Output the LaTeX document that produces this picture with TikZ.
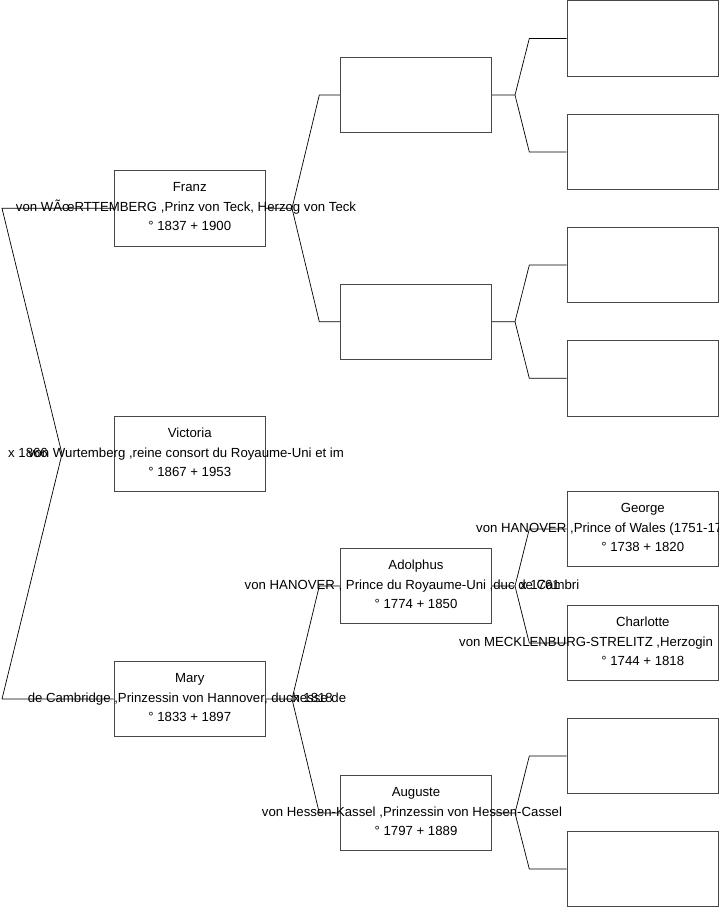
\documentclass[tikz,border=0pt]{standalone}
\usepackage{fontspec}
\setmainfont{Liberation Sans}
\begin{document}
\begin{tikzpicture}[x=1pt,y=-1pt,
  pbox/.style={draw=black!72, line width=0.8pt, minimum width=151.5pt, minimum height=75.5pt, inner sep=0pt},
  conn/.style={draw=black, line width=0.7pt},
  txt/.style={font=\fontsize{13.2}{15}\selectfont, inner sep=0pt, anchor=base}]
\useasboundingbox (0,0) rectangle (719,908);
\newcommand\famcard[5]{%
  \node[pbox] (#1) at (#2,#3) {};
  \node[txt] (#1-first) at (#2,#3-16.5) {#4};
  \node[txt] (#1-dates) at (#2,#3+22.5) {#5};}
% column 1
\famcard{franz}{189.75}{208.3}{Franz}{° 1837 + 1900}
\node[txt] (franz-title) at (186,211.8) {von WÃœRTTEMBERG ,Prinz von Teck, Herzog von Teck};
\famcard{victoria}{189.75}{454}{Victoria}{° 1867 + 1953}
\node[txt] (victoria-title) at (186,457.5) {von Wurtemberg ,reine consort du Royaume-Uni et im};
\famcard{mary}{189.75}{699}{Mary}{° 1833 + 1897}
\node[txt] (mary-title) at (187,702.5) {de Cambridge ,Prinzessin von Hannover, duchesse de};
% column 2
\node[pbox] (pa) at (416,95) {};
\node[pbox] (pb) at (416,321.7) {};
\famcard{adolphus}{416}{586}{Adolphus}{° 1774 + 1850}
\node[txt] (adolphus-title) at (412,589.5) {von HANOVER , Prince du Royaume-Uni ,duc de Cambri};
\famcard{auguste}{416}{813}{Auguste}{° 1797 + 1889}
\node[txt] (auguste-title) at (412,816.5) {von Hessen-Kassel ,Prinzessin von Hessen-Cassel};
% column 3
\node[pbox] (c1) at (642.8,38.5) {};
\node[pbox] (c2) at (642.8,152) {};
\node[pbox] (c3) at (642.8,265) {};
\node[pbox] (c4) at (642.8,378.3) {};
\famcard{george}{642.8}{529}{George}{° 1738 + 1820}
\node[txt, anchor=base west] (george-title) at (476,532.5) {von HANOVER ,Prince of Wales (1751-17};
\famcard{charlotte}{642.8}{643}{Charlotte}{° 1744 + 1818}
\node[txt, anchor=base west] (charlotte-title) at (459,646.5) {von MECKLENBURG-STRELITZ ,Herzogin};
\node[pbox] (c7) at (642.8,756) {};
\node[pbox] (c8) at (642.8,869) {};
% marriage bracket
\coordinate (mtop) at (2,208.3);
\coordinate (mmid) at (62,454);
\coordinate (mbot) at (2,699);
\draw[conn] (franz.west) -- (mtop) -- (mmid) -- (mbot) -- (mary.west);
\node[txt, anchor=base east] (m1866) at (48,457.5) {x 1866};
% forks
\coordinate (ff) at (292,208.3);
\draw[conn] (franz.east) -- (ff) -- (319.3,95) -- (pa.west);
\draw[conn] (ff) -- (319.3,321.7) -- (pb.west);
\coordinate (fa) at (515,95);
\draw[conn] (pa.east) -- (fa) -- (529.3,38.5) -- (c1.west);
\draw[conn] (fa) -- (529.3,152) -- (c2.west);
\coordinate (fb) at (515,321.7);
\draw[conn] (pb.east) -- (fb) -- (529.3,265) -- (c3.west);
\draw[conn] (fb) -- (529.3,378.3) -- (c4.west);
\coordinate (fm) at (292,699);
\draw[conn] (mary.east) -- (fm) -- (319.3,586) -- (adolphus.west);
\draw[conn] (fm) -- (319.3,813) -- (auguste.west);
\node[txt, anchor=base west] (m1818) at (293,702.5) {x 1818};
\coordinate (fad) at (515,586);
\draw[conn] (adolphus.east) -- (fad) -- (529.3,529) -- (george.west);
\draw[conn] (fad) -- (529.3,643) -- (charlotte.west);
\node[txt, anchor=base west] (m1761) at (520,589.5) {x 1761};
\coordinate (fau) at (515,813);
\draw[conn] (auguste.east) -- (fau) -- (529.3,756) -- (c7.west);
\draw[conn] (fau) -- (529.3,869) -- (c8.west);
\end{tikzpicture}
\end{document}
